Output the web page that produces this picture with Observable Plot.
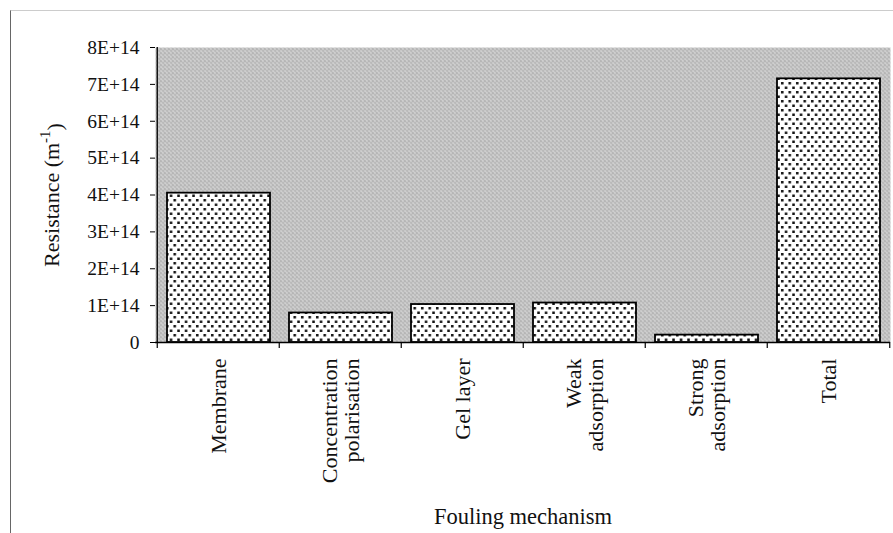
<!DOCTYPE html>
<html><head><meta charset="utf-8">
<script src="https://cdn.jsdelivr.net/npm/d3@7"></script>
<script src="https://cdn.jsdelivr.net/npm/@observablehq/plot@0.6"></script>
<style>
body{margin:0;background:#fff;}
#chart{position:relative;width:893px;height:533px;overflow:hidden;}
#border{position:absolute;left:10px;top:10px;width:900px;height:540px;border-left:1.5px solid #666;border-top:1px solid #ccc;pointer-events:none;}
</style></head><body><div id="chart"><div id="border"></div></div>
<script>
const categories = ["Membrane","Concentration\npolarisation","Gel layer","Weak\nadsorption","Strong\nadsorption","Total"];
const resistance = [4.05e14, 0.8e14, 1.03e14, 1.07e14, 0.2e14, 7.15e14];
const yTicks = [0,1e14,2e14,3e14,4e14,5e14,6e14,7e14,8e14];
const yTickLabels = ["0","1E+14","2E+14","3E+14","4E+14","5E+14","6E+14","7E+14","8E+14"];
const xTitle = "Fouling mechanism";
const yTitleMain = "Resistance (m";
const yTitleSup = "-1";
const yTitleEnd = ")";

const data = categories.map((c,i)=>({mechanism:c, value:resistance[i]}));
const W=893,H=533,mL=155,mR=3,mT=47,mB=191;
const bw=(W-mL-mR)/categories.length;
const yTitle = yTitleMain + yTitleSup + yTitleEnd;

const svg = Plot.plot({
  width:W, height:H, marginLeft:mL, marginRight:mR, marginTop:mT, marginBottom:mB,
  style:{fontFamily:"'Liberation Serif','Times New Roman',serif", background:"transparent", color:"#000", fontSize:"19px", overflow:"visible"},
  x:{domain:categories, padding:0, axis:null},
  y:{domain:[0,8e14], axis:null},
  marks:[
    Plot.frame({fill:"url(#bgpat)", stroke:null}),
    Plot.barY(data,{x:"mechanism", y:"value", fill:"url(#dots)", stroke:"#000", strokeWidth:1.8, insetLeft:10, insetRight:9}),
    Plot.axisY({ticks:yTicks, tickFormat:d=>yTickLabels[yTicks.indexOf(d)], tickSize:5, tickPadding:11, label:null, fontSize:19.5, stroke:"#000", fill:"#111"}),
    Plot.ruleY([0],{stroke:"#000", strokeWidth:1.3}),
    Plot.ruleX([categories[0]],{x:d=>d, dx:-bw/2, stroke:"#000", strokeWidth:1.3}),
    Plot.ruleX(categories,{x:d=>d, dx:-bw/2, y1:0, y2:0, insetBottom:-6, stroke:"#000", strokeWidth:1.2}),
    Plot.ruleX([categories[categories.length-1]],{x:d=>d, dx:bw/2, y1:0, y2:0, insetBottom:-6, stroke:"#000", strokeWidth:1.2}),
    Plot.text(categories,{x:d=>d, frameAnchor:"bottom", rotate:-90, textAnchor:"end", lineAnchor:"middle", dy:16, fontSize:22, fill:"#111"}),
    Plot.text([xTitle],{frameAnchor:"bottom", textAnchor:"middle", lineAnchor:"middle", dy:174, fontSize:22.5, fill:"#111"}),
    Plot.text([yTitle],{frameAnchor:"left", rotate:-90, textAnchor:"middle", lineAnchor:"middle", dx:-104, fontSize:22, fill:"#111"})
  ]
});
// superscript for the unit in the y title
for (const t of svg.querySelectorAll("text")) {
  if (t.textContent === yTitle) {
    t.textContent = "";
    const ns0="http://www.w3.org/2000/svg";
    const a=document.createElementNS(ns0,"tspan"); a.textContent=yTitleMain;
    const b=document.createElementNS(ns0,"tspan"); b.textContent=yTitleSup; b.setAttribute("dy","-0.55em"); b.setAttribute("font-size","15");
    const c=document.createElementNS(ns0,"tspan"); c.textContent=yTitleEnd; c.setAttribute("dy","0.55em");
    t.append(a,b,c);
  }
}
const ns="http://www.w3.org/2000/svg";
const defs=document.createElementNS(ns,"defs");
defs.innerHTML=`
<pattern id="dots" patternUnits="userSpaceOnUse" width="7.5" height="9">
  <rect width="7.5" height="9" fill="#fff"/>
  <rect x="1" y="1" width="2.5" height="2.5" fill="#111"/>
  <rect x="4.8" y="5.5" width="2.5" height="2.5" fill="#111"/>
</pattern>
<pattern id="bgpat" patternUnits="userSpaceOnUse" width="4" height="4">
  <rect width="4" height="4" fill="#c8c8c8"/>
  <rect x="0" y="0" width="1" height="1" fill="#7e7e7e"/>
  <rect x="2" y="2" width="1" height="1" fill="#909090"/>
  <rect x="1" y="3" width="1" height="1" fill="#e4e4e4"/>
</pattern>`;
svg.insertBefore(defs, svg.firstChild);
document.getElementById("chart").appendChild(svg);
</script></body></html>
